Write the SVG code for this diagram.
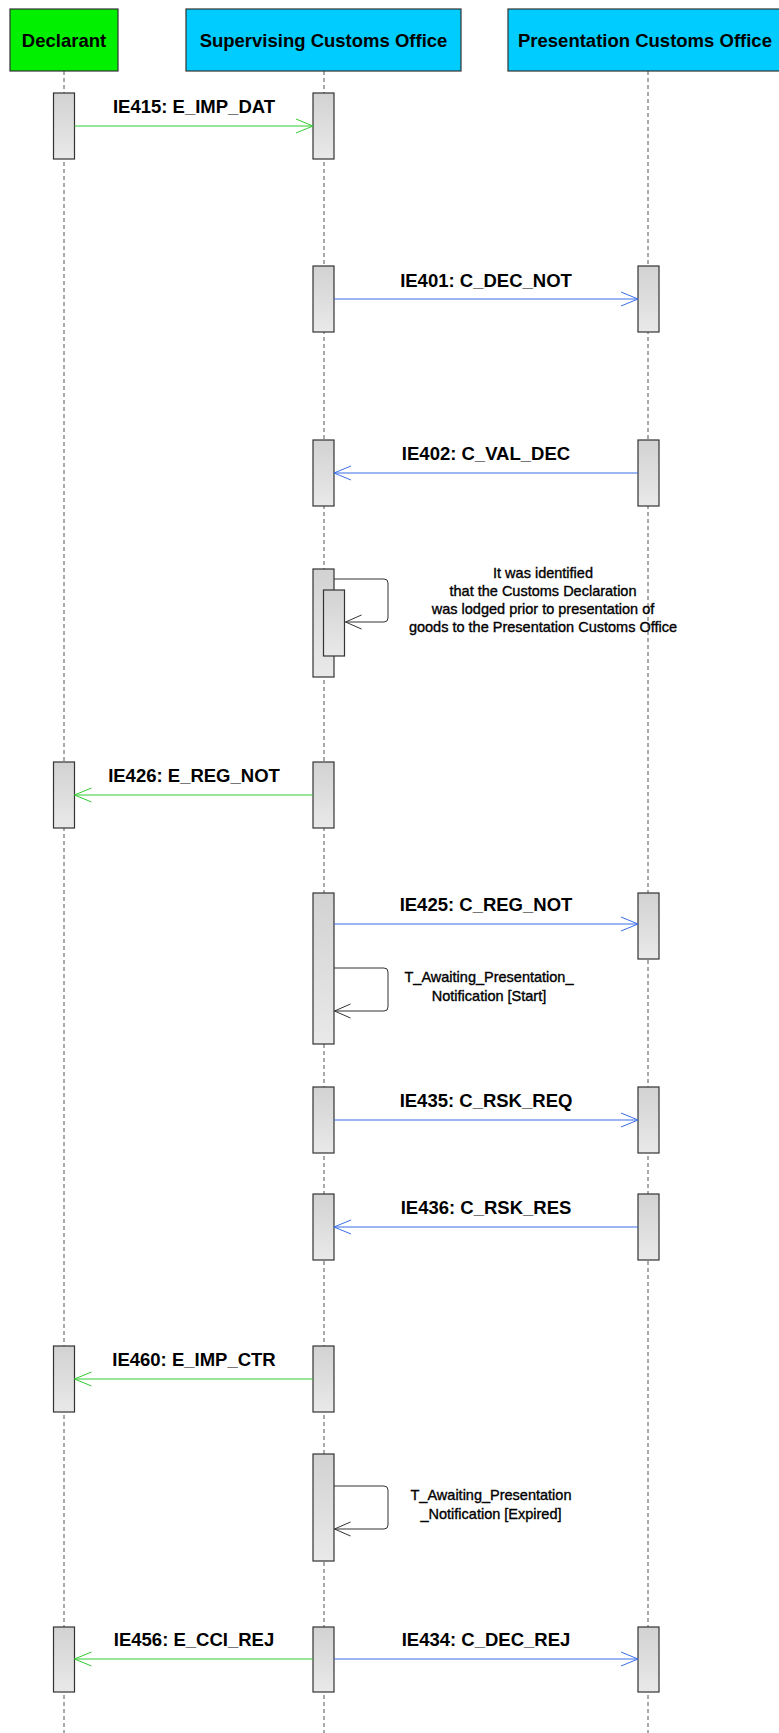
<svg xmlns="http://www.w3.org/2000/svg" width="779" height="1733" viewBox="0 0 779 1733">
<defs>
<linearGradient id="actg" x1="0" y1="0" x2="0" y2="1">
<stop offset="0" stop-color="#d2d2d2"/>
<stop offset="1" stop-color="#e9e9e9"/>
</linearGradient>
<marker id="ag" viewBox="-18 -8 20 16" refX="0" refY="0" markerWidth="20" markerHeight="16" markerUnits="userSpaceOnUse" orient="auto">
<path d="M -17 -7 L 0 0 L -17 7" fill="none" stroke="#33cc33" stroke-width="1"/>
</marker>
<marker id="ab" viewBox="-18 -8 20 16" refX="0" refY="0" markerWidth="20" markerHeight="16" markerUnits="userSpaceOnUse" orient="auto">
<path d="M -17 -7 L 0 0 L -17 7" fill="none" stroke="#3a6ee8" stroke-width="1"/>
</marker>
<marker id="ak" viewBox="-18 -8 20 16" refX="0" refY="0" markerWidth="20" markerHeight="16" markerUnits="userSpaceOnUse" orient="auto">
<path d="M -16 -7 L 0 0 L -16 7" fill="none" stroke="#333333" stroke-width="1"/>
</marker>
</defs>
<style>
.hdr{stroke:#333;stroke-width:1.2}
.ht{font-family:"Liberation Sans",Arial,sans-serif;font-weight:bold;font-size:18.5px;fill:#000}
.life{stroke:#555;stroke-width:1;stroke-dasharray:4,3;fill:none}
.act{fill:url(#actg);stroke:#333;stroke-width:1.2}
.lbl{font-family:"Liberation Sans",Arial,sans-serif;font-weight:bold;font-size:18.5px;fill:#000;text-anchor:middle}
.note{font-family:"Liberation Sans",Arial,sans-serif;font-size:14.5px;fill:#000;stroke:#000;stroke-width:0.35;text-anchor:middle}
.mg{stroke:#33cc33;stroke-width:1.2;fill:none;marker-end:url(#ag)}
.mb{stroke:#3a6ee8;stroke-width:1.2;fill:none;marker-end:url(#ab)}
.self{stroke:#333;stroke-width:1;fill:none;marker-end:url(#ak)}
</style>
<rect width="779" height="1733" fill="#ffffff"/>

<g id="lifelines">
<line class="life" x1="64" y1="71" x2="64" y2="1733"/>
<line class="life" x1="324" y1="71" x2="324" y2="1733"/>
<line class="life" x1="648" y1="71" x2="648" y2="1733"/>
</g>

<g id="declarant">
<rect class="hdr" x="10" y="9" width="108" height="62" fill="#00f000"/>
<text class="ht" x="64" y="47" text-anchor="middle">Declarant</text>
</g>
<g id="supervising">
<rect class="hdr" x="186" y="9" width="275" height="62" fill="#00ccff"/>
<text class="ht" x="323.5" y="47" text-anchor="middle">Supervising Customs Office</text>
</g>
<g id="presentation">
<rect class="hdr" x="508" y="9" width="290" height="62" fill="#00ccff"/>
<text class="ht" x="518" y="47">Presentation Customs Office</text>
</g>

<g id="activations">
<rect class="act" x="53.5" y="93" width="21" height="66"/>
<rect class="act" x="313" y="93" width="21" height="66"/>
<rect class="act" x="313" y="266" width="21" height="66"/>
<rect class="act" x="638" y="266" width="21" height="66"/>
<rect class="act" x="313" y="440" width="21" height="66"/>
<rect class="act" x="638" y="440" width="21" height="66"/>
<rect class="act" x="313" y="569" width="21" height="108"/>
<rect class="act" x="323.5" y="590" width="21" height="66"/>
<rect class="act" x="53.5" y="762" width="21" height="66"/>
<rect class="act" x="313" y="762" width="21" height="66"/>
<rect class="act" x="313" y="893" width="21" height="151"/>
<rect class="act" x="638" y="893" width="21" height="66"/>
<rect class="act" x="313" y="1087" width="21" height="66"/>
<rect class="act" x="638" y="1087" width="21" height="66"/>
<rect class="act" x="313" y="1194" width="21" height="66"/>
<rect class="act" x="638" y="1194" width="21" height="66"/>
<rect class="act" x="53.5" y="1346" width="21" height="66"/>
<rect class="act" x="313" y="1346" width="21" height="66"/>
<rect class="act" x="313" y="1454" width="21" height="107"/>
<rect class="act" x="53.5" y="1627" width="21" height="65"/>
<rect class="act" x="313" y="1627" width="21" height="65"/>
<rect class="act" x="638" y="1627" width="21" height="65"/>
</g>

<g id="connectors">
<line class="mg" x1="74.5" y1="126" x2="313" y2="126"/>
<line class="mb" x1="334" y1="299" x2="638" y2="299"/>
<line class="mb" x1="638" y1="473" x2="334" y2="473"/>
<path class="self" d="M 334 579 L 384 579 Q 388 579 388 583 L 388 618 Q 388 622 384 622 L 345.5 622"/>
<line class="mg" x1="313" y1="795" x2="74.5" y2="795"/>
<line class="mb" x1="334" y1="924" x2="638" y2="924"/>
<path class="self" d="M 334 968 L 384 968 Q 388 968 388 972 L 388 1007 Q 388 1011 384 1011 L 334.5 1011"/>
<line class="mb" x1="334" y1="1120" x2="638" y2="1120"/>
<line class="mb" x1="638" y1="1227" x2="334" y2="1227"/>
<line class="mg" x1="313" y1="1379" x2="74.5" y2="1379"/>
<path class="self" d="M 334 1486 L 384 1486 Q 388 1486 388 1490 L 388 1525 Q 388 1529 384 1529 L 334.5 1529"/>
<line class="mg" x1="313" y1="1659" x2="74.5" y2="1659"/>
<line class="mb" x1="334" y1="1659" x2="638" y2="1659"/>
</g>

<g id="labels">
<text class="lbl" x="194" y="113">IE415: E_IMP_DAT</text>
<text class="lbl" x="486" y="287">IE401: C_DEC_NOT</text>
<text class="lbl" x="486" y="460">IE402: C_VAL_DEC</text>
<text class="note" x="543" y="578">It was identified</text>
<text class="note" x="543" y="596">that the Customs Declaration</text>
<text class="note" x="543" y="614">was lodged prior to presentation of</text>
<text class="note" x="543" y="632">goods to the Presentation Customs Office</text>
<text class="lbl" x="194" y="782">IE426: E_REG_NOT</text>
<text class="lbl" x="486" y="911">IE425: C_REG_NOT</text>
<text class="note" x="489" y="982">T_Awaiting_Presentation_</text>
<text class="note" x="489" y="1001">Notification [Start]</text>
<text class="lbl" x="486" y="1107">IE435: C_RSK_REQ</text>
<text class="lbl" x="486" y="1214">IE436: C_RSK_RES</text>
<text class="lbl" x="194" y="1366">IE460: E_IMP_CTR</text>
<text class="note" x="491" y="1500">T_Awaiting_Presentation</text>
<text class="note" x="491" y="1519">_Notification [Expired]</text>
<text class="lbl" x="194" y="1646">IE456: E_CCI_REJ</text>
<text class="lbl" x="486" y="1646">IE434: C_DEC_REJ</text>
</g>
</svg>
